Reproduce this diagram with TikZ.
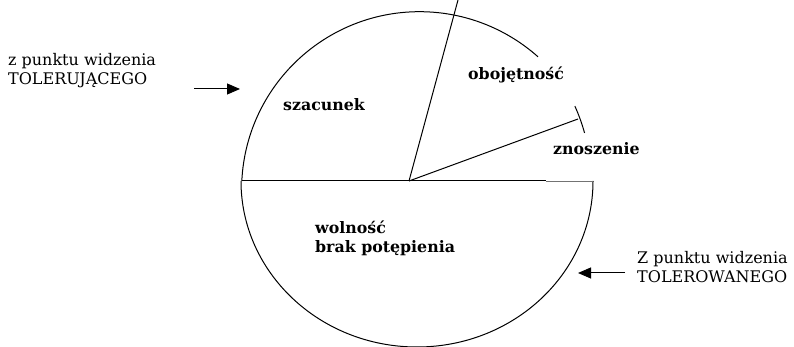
\documentclass[tikz,border=0pt]{standalone}
\usepackage{fontspec}
\setmainfont{DejaVu Serif}
\usetikzlibrary{arrows.meta}

\begin{document}
\begin{tikzpicture}[x=1pt, y=1pt,
    >={Triangle[length=13pt, width=11pt]},
    rim/.style={line width=1pt},
    spoke/.style={line width=1pt},
    lbl/.style={font=\fontsize{15.8}{19}\selectfont\bfseries, anchor=base west, inner sep=0pt, align=left},
    side/.style={font=\fontsize{16}{19}\selectfont, anchor=base west, inner sep=0pt, align=left},
    pointer/.style={->, line width=1pt}]
  \useasboundingbox (0,0) rectangle (794,347);
  \coordinate (pivot) at (409,166);
  \coordinate (left) at (241.8,166);
  \coordinate (cut) at (546,166);
  \coordinate (right) at (593,166);
  \coordinate (top) at (458,347);
  \coordinate (tip) at (578,228);
  % pie
  \draw[rim] (left) arc[start angle=177.2, end angle=48.3, radius=178];
  \draw[rim] (right) arc[start angle=0, end angle=-180, x radius=176, y radius=166];
  \draw[rim] (pivot) ++(24.3:182) arc[start angle=24.3, end angle=15.3, radius=182];
  \draw[spoke] (left) -- (cut);
  \draw[black!55, line width=0.7pt] (cut) -- (right);
  \draw[spoke] (pivot) -- (top);
  \draw[spoke] (pivot) -- (tip);
  \node[lbl] (szacunek) at (283,236) {szacunek};
  \node[lbl] (obojetnosc) at (468,267) {obojętność};
  \node[lbl] (znoszenie) at (553,192) {znoszenie};
  \node[lbl] (wolnosc) at (315,94) {wolność\\brak potępienia};
  % sides
  \node[side] (tolerujacy) at (8,262) {z punktu widzenia\\TOLERUJĄCEGO};
  \node[side] (tolerowany) at (637,64) {Z punktu widzenia\\TOLEROWANEGO};
  \coordinate (fromleft) at (194,258);
  \coordinate (toleft) at (240,258);
  \coordinate (fromright) at (625,74);
  \coordinate (toright) at (578,74);
  \draw[pointer] (fromleft) -- (toleft);
  \draw[pointer] (fromright) -- (toright);
\end{tikzpicture}
\end{document}
